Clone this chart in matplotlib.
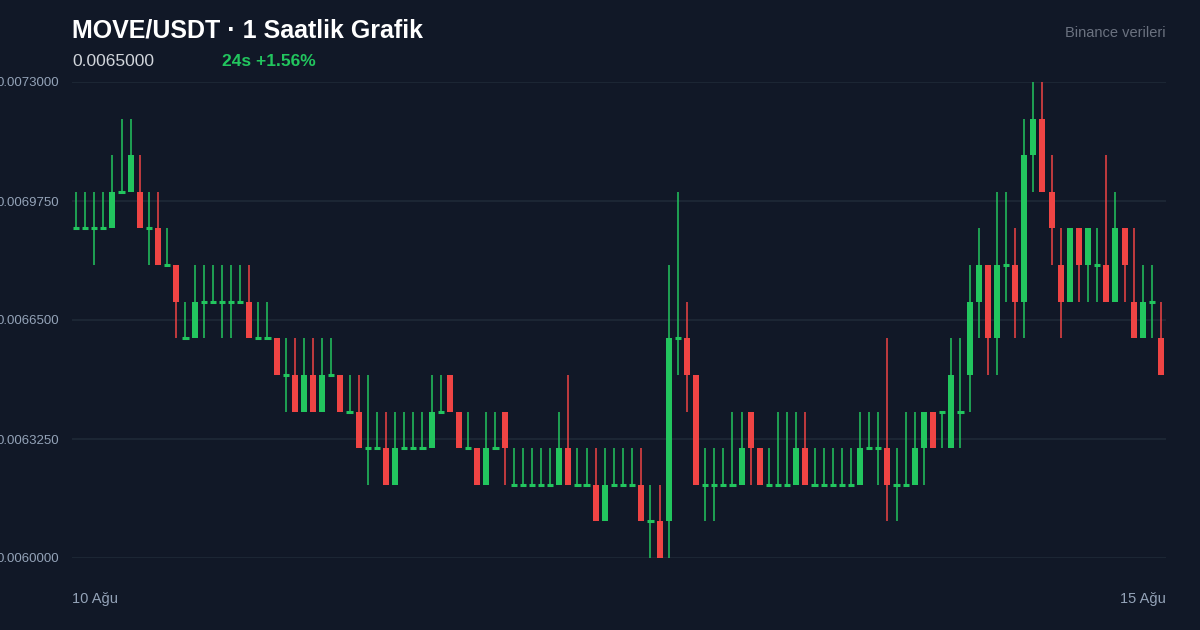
import matplotlib
matplotlib.use("Agg")
import matplotlib.pyplot as plt

opens = [0.0069,0.0069,0.0069,0.0069,0.0069,0.0070,0.0070,0.0070,0.0069,0.0069,0.0068,0.0068,0.0066,0.0066,0.0067,0.0067,0.0067,0.0067,0.0067,0.0067,
         0.0066,0.0066,0.0066,0.0065,0.0065,0.0064,0.0065,0.0064,0.0065,0.0065,0.0064,0.0064,0.0063,0.0063,0.0063,0.0062,0.0063,0.0063,0.0063,0.0063,
         0.0064,0.0065,0.0064,0.0063,0.0063,0.0062,0.0063,0.0064,0.0062,0.0062,0.0062,0.0062,0.0062,0.0062,0.0063,0.0062,0.0062,0.0062,0.0061,0.0062,
         0.0062,0.0062,0.0062,0.0061,0.0061,0.0061,0.0066,0.0066,0.0065,0.0062,0.0062,0.0062,0.0062,0.0062,0.0064,0.0063,0.0062,0.0062,0.0062,0.0062,
         0.0063,0.0062,0.0062,0.0062,0.0062,0.0062,0.0062,0.0063,0.0063,0.0063,0.0062,0.0062,0.0062,0.0063,0.0064,0.0064,0.0063,0.0064,0.0065,0.0067,
         0.0068,0.0066,0.0068,0.0068,0.0067,0.0071,0.0072,0.0070,0.0068,0.0067,0.0069,0.0068,0.0068,0.0068,0.0067,0.0069,0.0067,0.0066,0.0067,0.0066]
closes = [0.0069,0.0069,0.0069,0.0069,0.0070,0.0070,0.0071,0.0069,0.0069,0.0068,0.0068,0.0067,0.0066,0.0067,0.0067,0.0067,0.0067,0.0067,0.0067,0.0066,
          0.0066,0.0066,0.0065,0.0065,0.0064,0.0065,0.0064,0.0065,0.0065,0.0064,0.0064,0.0063,0.0063,0.0063,0.0062,0.0063,0.0063,0.0063,0.0063,0.0064,
          0.0064,0.0064,0.0063,0.0063,0.0062,0.0063,0.0063,0.0063,0.0062,0.0062,0.0062,0.0062,0.0062,0.0063,0.0062,0.0062,0.0062,0.0061,0.0062,0.0062,
          0.0062,0.0062,0.0061,0.0061,0.0060,0.0066,0.0066,0.0065,0.0062,0.0062,0.0062,0.0062,0.0062,0.0063,0.0063,0.0062,0.0062,0.0062,0.0062,0.0063,
          0.0062,0.0062,0.0062,0.0062,0.0062,0.0062,0.0063,0.0063,0.0063,0.0062,0.0062,0.0062,0.0063,0.0064,0.0063,0.0064,0.0065,0.0064,0.0067,0.0068,
          0.0066,0.0068,0.0068,0.0067,0.0071,0.0072,0.0070,0.0069,0.0067,0.0069,0.0068,0.0069,0.0068,0.0067,0.0069,0.0068,0.0066,0.0067,0.0067,0.0065]
highs = [0.0070,0.0070,0.0070,0.0070,0.0071,0.0072,0.0072,0.0071,0.0070,0.0070,0.0069,0.0068,0.0067,0.0068,0.0068,0.0068,0.0068,0.0068,0.0068,0.0068,
         0.0067,0.0067,0.0066,0.0066,0.0066,0.0066,0.0066,0.0066,0.0066,0.0065,0.0065,0.0065,0.0065,0.0064,0.0064,0.0064,0.0064,0.0064,0.0064,0.0065,
         0.0065,0.0065,0.0064,0.0064,0.0063,0.0064,0.0064,0.0064,0.0063,0.0063,0.0063,0.0063,0.0063,0.0064,0.0065,0.0063,0.0063,0.0063,0.0063,0.0063,
         0.0063,0.0063,0.0063,0.0062,0.0062,0.0068,0.0070,0.0067,0.0065,0.0063,0.0063,0.0063,0.0064,0.0064,0.0064,0.0063,0.0063,0.0064,0.0064,0.0064,
         0.0064,0.0063,0.0063,0.0063,0.0063,0.0063,0.0064,0.0064,0.0064,0.0066,0.0063,0.0064,0.0064,0.0064,0.0064,0.0064,0.0066,0.0066,0.0068,0.0069,
         0.0068,0.0070,0.0070,0.0069,0.0072,0.0073,0.0073,0.0071,0.0069,0.0069,0.0069,0.0069,0.0069,0.0071,0.0070,0.0069,0.0069,0.0068,0.0068,0.0067]
lows = [0.0069,0.0069,0.0068,0.0069,0.0069,0.0070,0.0070,0.0069,0.0068,0.0068,0.0068,0.0066,0.0066,0.0066,0.0066,0.0067,0.0066,0.0066,0.0067,0.0066,
        0.0066,0.0066,0.0065,0.0064,0.0064,0.0064,0.0064,0.0064,0.0065,0.0064,0.0064,0.0063,0.0062,0.0063,0.0062,0.0062,0.0063,0.0063,0.0063,0.0063,
        0.0064,0.0064,0.0063,0.0063,0.0062,0.0062,0.0063,0.0062,0.0062,0.0062,0.0062,0.0062,0.0062,0.0062,0.0062,0.0062,0.0062,0.0061,0.0061,0.0062,
        0.0062,0.0062,0.0061,0.0060,0.0060,0.0060,0.0065,0.0064,0.0062,0.0061,0.0061,0.0062,0.0062,0.0062,0.0062,0.0062,0.0062,0.0062,0.0062,0.0062,
        0.0062,0.0062,0.0062,0.0062,0.0062,0.0062,0.0062,0.0063,0.0062,0.0061,0.0061,0.0062,0.0062,0.0062,0.0063,0.0063,0.0063,0.0063,0.0064,0.0066,
        0.0065,0.0065,0.0067,0.0066,0.0066,0.0070,0.0070,0.0068,0.0066,0.0067,0.0067,0.0067,0.0067,0.0067,0.0067,0.0067,0.0066,0.0066,0.0066,0.0065]
y_ticks = [0.0060, 0.006325, 0.00665, 0.006975, 0.0073]
x_labels = ["10 Ağu", "15 Ağu"]

BG = "#111827"; GREEN = "#22c55e"; RED = "#ef4444"
plt.rcParams['font.family'] = ['Liberation Sans', 'DejaVu Sans']
fig = plt.figure(figsize=(12, 6.3), dpi=100, facecolor=BG)
ax = fig.add_axes([72/1200, 1-558/630, (1166-72)/1200, (558-82)/630])
ax.set_facecolor(BG)
n = len(opens)
ax.set_xlim(-0.44, n - 0.45)
ax.set_ylim(0.0060, 0.0073)
for i in range(n):
    o, c, h, l = opens[i], closes[i], highs[i], lows[i]
    col = GREEN if c >= o else RED
    ax.vlines(i, l, h, color=col, lw=1.1, zorder=3)
    if abs(c - o) < 1e-9:
        ax.hlines(o, i - 0.34, i + 0.34, color=col, lw=2.2, zorder=4)
    else:
        ax.bar(i, abs(c - o), bottom=min(o, c), width=0.66, color=col, zorder=4, linewidth=0)
ax.set_yticks(y_ticks)
ax.set_yticklabels([f"{v:.7f}" for v in y_ticks])
ax.yaxis.grid(True, color="#1f2937", lw=1.2)
ax.set_axisbelow(True)
ax.set_xticks([])
ax.tick_params(axis='y', length=0, colors="#94a3b8", labelsize=9.5, pad=9)
for s in ax.spines.values():
    s.set_visible(False)

def T(x, y, s, **kw):
    fig.text(x/1200, 1-y/630, s, va='center', **kw)
T(72, 30, "MOVE/USDT · 1 Saatlik Grafik", color="white", fontsize=18, fontweight='bold')
T(72, 61, "0.0065000", color="#d1d5db", fontsize=12.5)
T(222, 61, "24s +1.56%", color=GREEN, fontsize=12.5, fontweight='bold')
T(1166, 33, "Binance verileri", color="#6b7280", fontsize=10.5, ha='right')
T(72, 599, x_labels[0], color="#94a3b8", fontsize=10.5)
T(1166, 599, x_labels[1], color="#94a3b8", fontsize=10.5, ha='right')
fig.savefig("out.png", dpi=100, facecolor=BG)
